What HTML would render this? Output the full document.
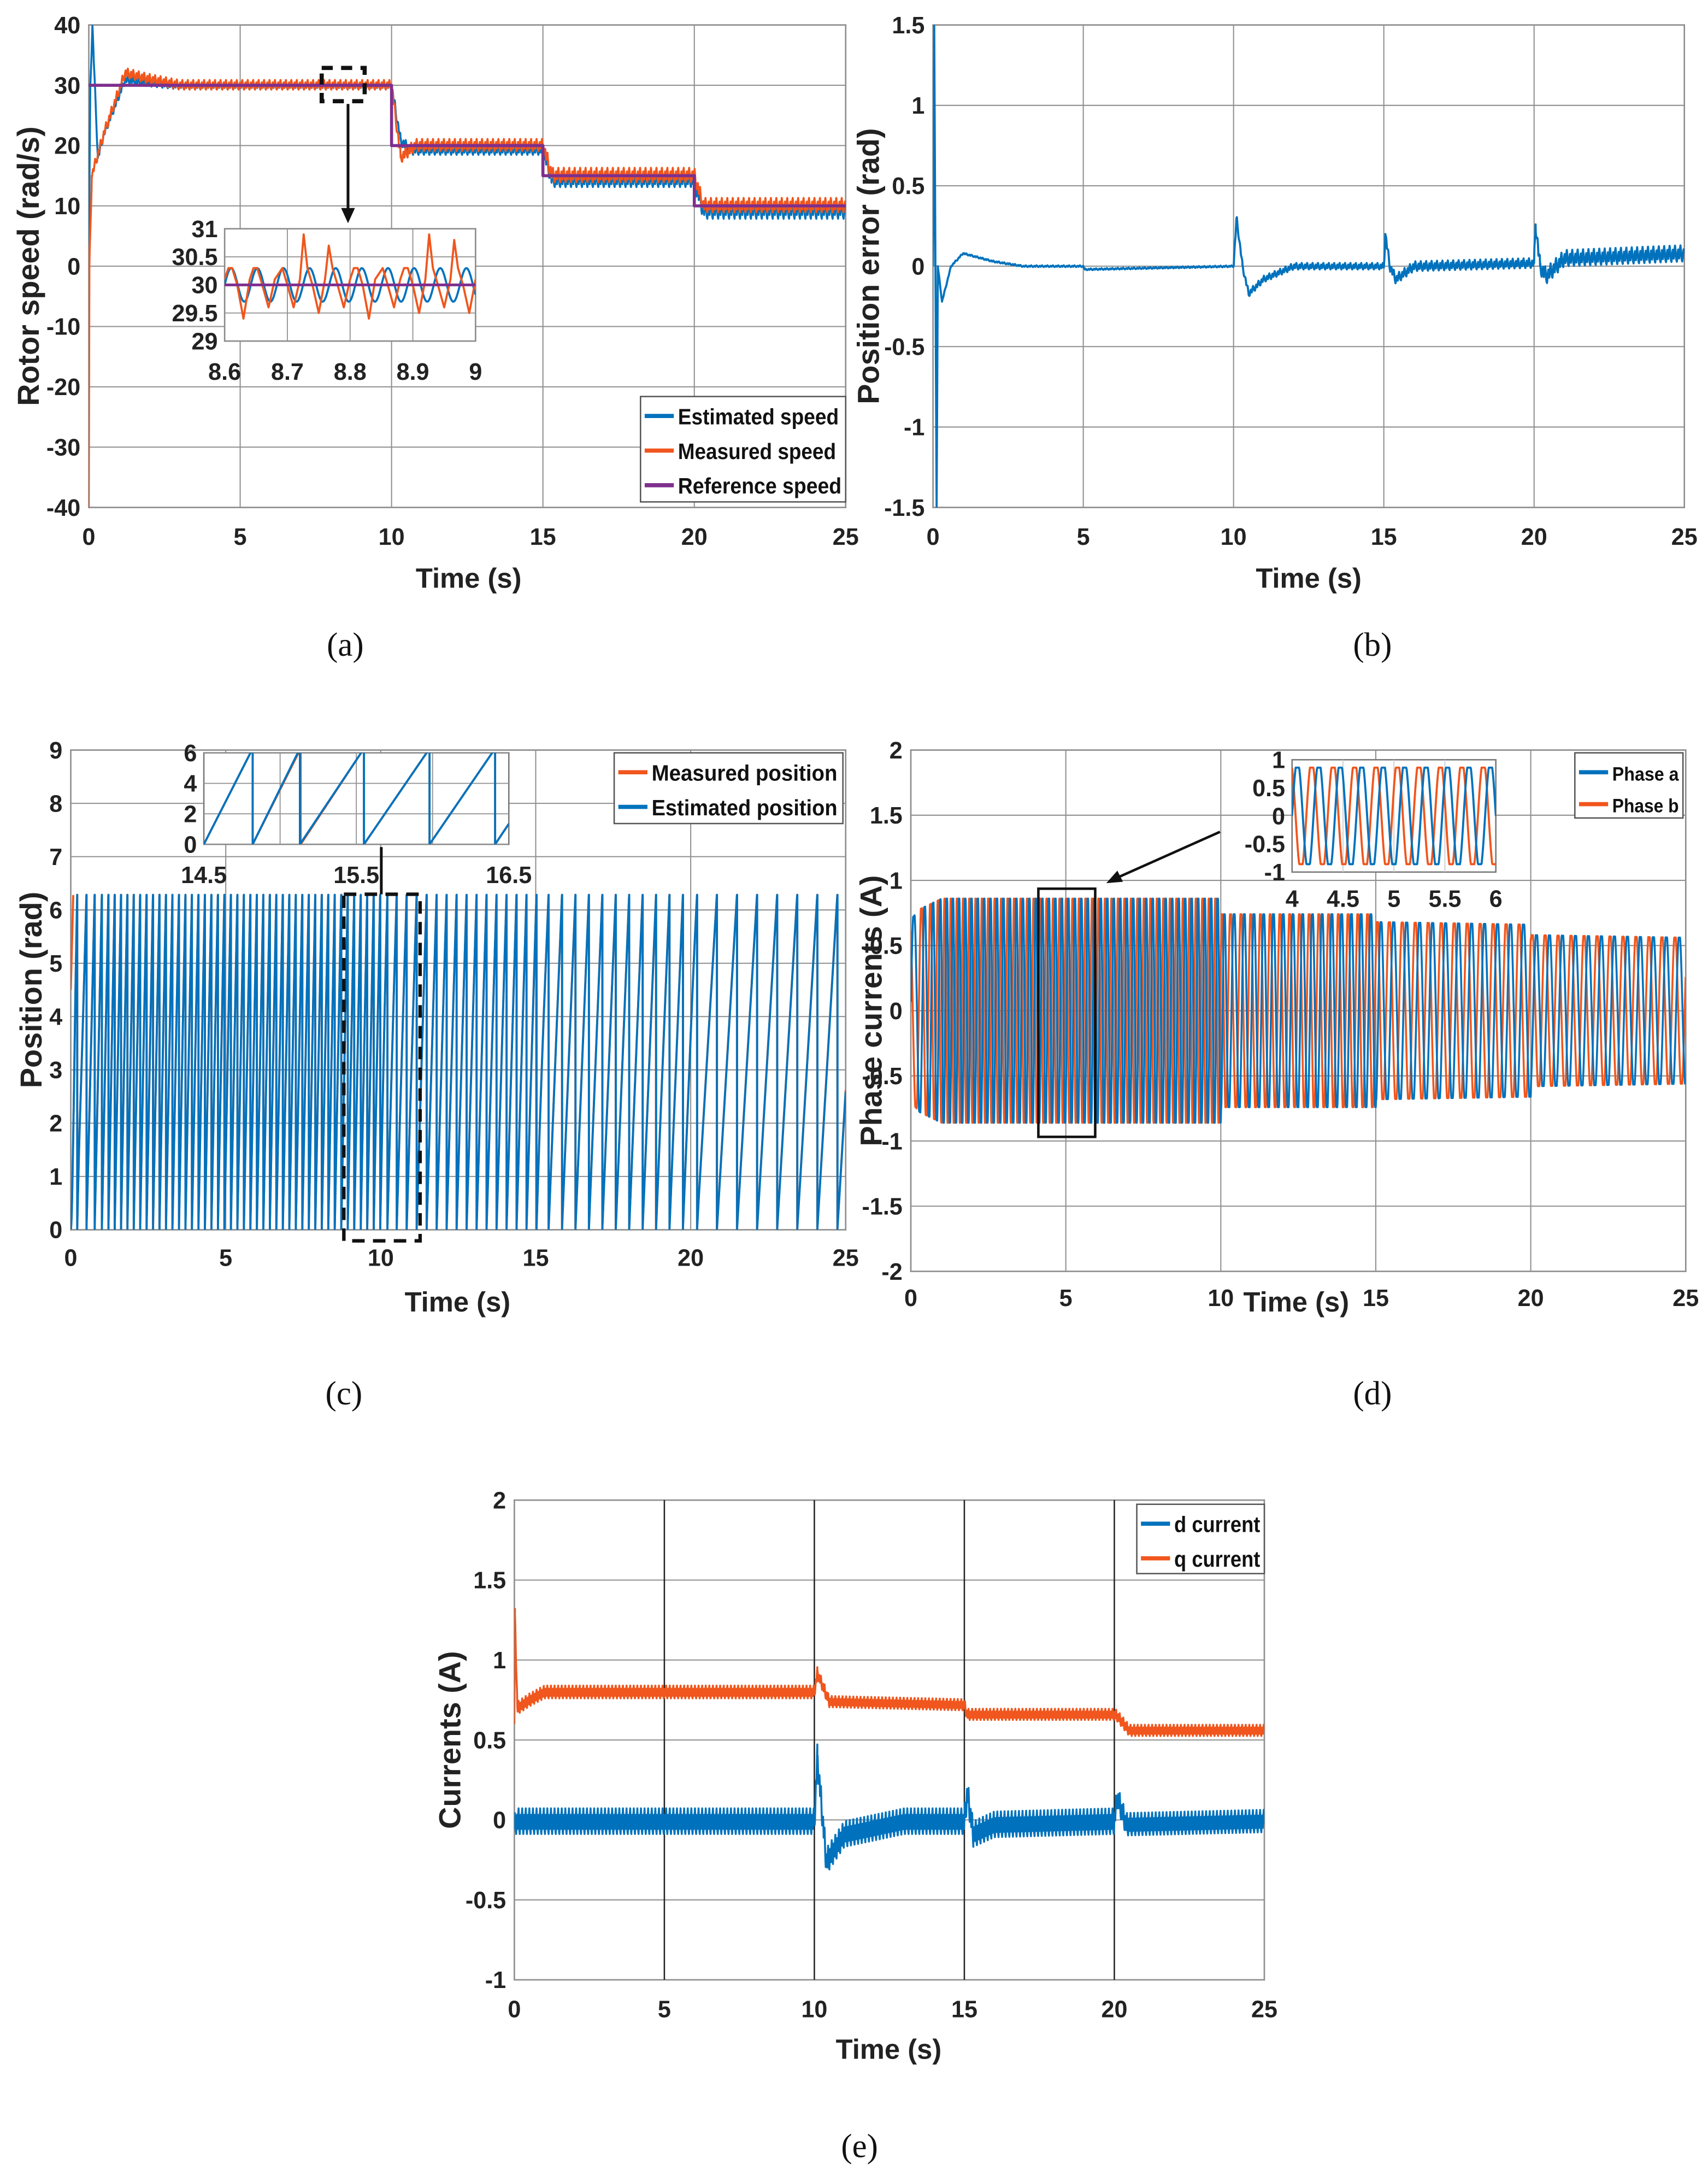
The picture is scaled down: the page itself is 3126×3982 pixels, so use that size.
<!DOCTYPE html>
<html><head><meta charset="utf-8"><style>
html,body{margin:0;padding:0;background:#fff}
svg{display:block}
text{font-family:"Liberation Sans",sans-serif}
.tk{font-weight:bold;font-size:17px;fill:#222}
.lab{font-weight:bold;font-size:20px;fill:#222}
.ylab{font-weight:bold;font-size:22px;fill:#222}
.cap{font-family:"Liberation Serif",serif;font-size:24px;fill:#111}
.lg{font-weight:bold;font-size:16px;fill:#111}
</style></head><body>
<svg id="fig" width="3126" height="3982" viewBox="0 0 1232 1569.5" xmlns="http://www.w3.org/2000/svg"></svg>
<script>
// ---------- data ----------
const refT=[0,10,15,20,25];
const refV=[30,20,15,10];
const measT=[0,0.02,0.1,0.5,1.2,2,3,10,10.3,10.8,15,15.3,20,20.3,25];
const measV=[-40,0,15,22,32,31,30,30,18,20,20,15,15,10,10];
const measRip=[0.8,1.0,1.2,1.2];
const estT=[0,0.05,0.12,0.2,0.3,0.5,1.2,2,3,10,10.3,10.6,15,15.3,20,20.3,25];
const estV=[0,30,40,30,18,22,31,30.5,30,30,21,19.5,19.5,14.5,14.5,9.7,9.7];
const estRip=[0.6,0.9,1.2,1.6];
const rippleShape=[0,0.6,1,0.4,-0.3,-0.8,-1,-0.5,0.1,0.5,0.2,-0.6];
const errT=[0,0.04,0.08,0.12,0.16,0.3,0.6,1,2,3,5,5.05,10,10.1,10.3,10.5,11,12,15,15.05,15.2,15.4,16,20,20.05,20.2,20.4,21,25];
const errV=[0,1.5,0,-1.5,0,-0.22,0,0.08,0.03,0,0,-0.02,0,0.3,0,-0.17,-0.08,0,0,0.2,0,-0.08,0,0.02,0.26,0,-0.06,0.05,0.08];
const errRip=[0.005,0.02,0.03,0.05];
const ampT=[0,0.3,1,10,10.01,15,15.01,20,20.01,25];
const ampV=[0.7,0.78,0.86,0.86,0.74,0.74,0.68,0.66,0.58,0.56];
const qT=[0,0.02,0.1,0.5,1,10,10.1,10.5,15,15.1,20,20.1,20.5,25];
const qV=[0.6,1.28,0.7,0.75,0.8,0.8,0.92,0.74,0.72,0.66,0.66,0.65,0.56,0.56];
const dT=[0,0.05,1,10,10.1,10.4,11,13,15,15.1,15.3,16,20,20.1,20.4,25];
const dV=[-0.05,0,0,0,0.4,-0.25,-0.08,0,0,0.18,-0.08,-0.02,0,0.15,-0.02,0];
const insA_peaks=[30.3,30.3,30.2,30.9,30.7,30.3,30.2,30.3,30.9,30.8];
const insA_trough=[29.4,29.6,29.6,29.5,29.6,29.4,29.6,29.5,29.6,29.5];
const insC_wrap=[14.82,15.13,15.55,15.98,16.41];
const C={blue:'#0072BD',orange:'#F0561D',purple:'#7E2F8E',grid:'#8f8f8f'};
const NS='http://www.w3.org/2000/svg';
const svg=document.getElementById('fig');
function mk(tag,parent){const e=document.createElementNS(NS,tag);(parent||svg).appendChild(e);return e;}
function interp(T,V,t){if(t<=T[0])return V[0];for(let i=1;i<T.length;i++){if(t<=T[i]){const f=(t-T[i-1])/(T[i]-T[i-1]);return V[i-1]+f*(V[i]-V[i-1]);}}return V[V.length-1];}
function seg(t){return t<10?0:t<15?1:t<20?2:3;}
function axes(x0,x1,y0,y1,xmin,xmax,ymin,ymax){return{x0,x1,y0,y1,sx:t=>x0+(t-xmin)/(xmax-xmin)*(x1-x0),sy:v=>y1-(v-ymin)/(ymax-ymin)*(y1-y0)};}
let clipN=0;
function clip(ax){const id='c'+(clipN++);const cp=mk('clipPath');cp.setAttribute('id',id);const r=mk('rect',cp);r.setAttribute('x',ax.x0);r.setAttribute('y',ax.y0);r.setAttribute('width',ax.x1-ax.x0);r.setAttribute('height',ax.y1-ax.y0);return 'url(#'+id+')';}
function line(x1,y1,x2,y2,st,w,name,dash){const l=mk('line');l.setAttribute('x1',x1);l.setAttribute('y1',y1);l.setAttribute('x2',x2);l.setAttribute('y2',y2);l.setAttribute('stroke',st);l.setAttribute('stroke-width',w);if(dash)l.setAttribute('stroke-dasharray',dash);


return l;}
function txt(x,y,s,cls,anchor,name,rot){const t=mk('text');t.setAttribute('x',x);t.setAttribute('y',y);t.setAttribute('class',cls);t.setAttribute('text-anchor',anchor||'middle');if(rot)t.setAttribute('transform','rotate(-90 '+x+' '+y+')');t.textContent=s;


return t;}
function rect(x,y,w,h,st,sw,name,dash){const r=mk('rect');r.setAttribute('x',x);r.setAttribute('y',y);r.setAttribute('width',w);r.setAttribute('height',h);r.setAttribute('fill','#fff');r.setAttribute('stroke',st);r.setAttribute('stroke-width',sw);if(dash){r.setAttribute('stroke-dasharray',dash);r.setAttribute('fill','none');}


return r;}
function path(pts,ax,col,w,cp,name){const p=mk('path');let d='';for(let i=0;i<pts.length;i++){d+=(i?'L':'M')+ax.sx(pts[i][0]).toFixed(2)+' '+ax.sy(pts[i][1]).toFixed(2);}p.setAttribute('d',d);p.setAttribute('fill','none');p.setAttribute('stroke',col);p.setAttribute('stroke-width',w);p.setAttribute('stroke-linejoin','round');if(cp)p.setAttribute('clip-path',cp);


return p;}
function frame(ax,xt,yt,pre,xly,ylx){
 rect(ax.x0,ax.y0,ax.x1-ax.x0,ax.y1-ax.y0,'#777',1,pre+'-plot-area');
 xt.forEach(v=>{line(ax.sx(v),ax.y0,ax.sx(v),ax.y1,C.grid,0.8,pre+'-x-grid');txt(ax.sx(v),xly,String(v),'tk','middle',pre+'-x-tick-label');});
 yt.forEach(v=>{line(ax.x0,ax.sy(v),ax.x1,ax.sy(v),C.grid,0.8,pre+'-y-grid');txt(ylx,ax.sy(v)+6,String(v),'tk','end',pre+'-y-tick-label');});
}
function rippled(T,V,rip,t0,t1,dt,bias){const pts=[];let i=0;let k=0;for(let t=t0;t<=t1+1e-9;t+=dt){while(k<T.length&&T[k]<t){if(T[k]>=t0)pts.push([T[k],V[k]]);k++;}pts.push([t,interp(T,V,t)+rip[seg(t)]*(rippleShape[i%rippleShape.length]+(bias||0))]);i++;}return pts;}
function legend(x,y,w,h,items,dy,pre,fs,tl){rect(x,y,w,h,'#555',1,pre+'-legend');items.forEach((it,k)=>{const yy=y+14+k*dy;line(x+3,yy,x+24,yy,it[1],3,pre+'-legend-swatch');const t=txt(x+27,yy+6,it[0],'lg','start',pre+'-legend-entry');t.style.fontSize=fs+'px';t.setAttribute('textLength',tl[k]);t.setAttribute('lengthAdjust','spacingAndGlyphs');});}

// ---------- (a) ----------
const A=axes(64,610,18,366,0,25,-40,40);
frame(A,[0,5,10,15,20,25],[40,30,20,10,0,-10,-20,-30,-40],'a',393,58);
const cpA=clip(A);
path(rippled(estT,estV,estRip,0,25,0.015,-0.15),A,C.blue,1.4,cpA,'estimated-speed-line');
path(rippled(measT,measV,measRip,0,25,0.015,0.1),A,C.orange,1.4,cpA,'measured-speed-line');
{const pts=[];for(let i=0;i<refV.length;i++){pts.push([refT[i],refV[i]]);pts.push([refT[i+1],refV[i]]);}path(pts,A,C.purple,2.2,cpA,'reference-speed-line');}
rect(232,49,31,24,'#111',3,'zoom-box-a','8 6');
line(251,75,251,152,'#111',2,'zoom-arrow-a');
{const a=mk('path');a.setAttribute('d','M246 150 L256 150 L251 161 Z');a.setAttribute('fill','#111');

}
const IA=axes(162,343,165,246,8.6,9,29,31);
rect(IA.x0,IA.y0,IA.x1-IA.x0,IA.y1-IA.y0,'#777',1,'inset-a');
[8.6,8.7,8.8,8.9,9].forEach(v=>{line(IA.sx(v),IA.y0,IA.sx(v),IA.y1,C.grid,0.7,'inset-a-x-grid');txt(IA.sx(v),274,String(v),'tk','middle','inset-a-x-tick');});
[31,30.5,30,29.5,29].forEach(v=>{line(IA.x0,IA.sy(v),IA.x1,IA.sy(v),C.grid,0.7,'inset-a-y-grid');txt(157,IA.sy(v)+6,String(v),'tk','end','inset-a-y-tick');});
const cpIA=clip(IA);
{const pts=[];const per=0.4/insA_peaks.length;for(let k=0;k<insA_peaks.length;k++){const t0=8.6+k*per;pts.push([t0,30.1]);pts.push([t0+per*0.15,insA_peaks[k]]);pts.push([t0+per*0.3,30.3]);pts.push([t0+per*0.5,30.0]);pts.push([t0+per*0.75,insA_trough[k]]);pts.push([t0+per,30.1]);}
const b=[];for(let t=8.6;t<=9.001;t+=0.002){b.push([t,30+0.3*Math.sin((t-8.6)*2*Math.PI*24)]);}
path(b,IA,C.blue,1.5,cpIA,'inset-a-estimated');
path(pts,IA,C.orange,1.5,cpIA,'inset-a-measured');
path([[8.6,30],[9,30]],IA,C.purple,2,cpIA,'inset-a-reference');}
legend(462,286,148,76,[['Estimated speed',C.blue],['Measured speed',C.orange],['Reference speed',C.purple]],25,'a',16,[116,114,118]);
txt(28,192,'Rotor speed (rad/s)','ylab','middle','y-axis-title-a',true);
txt(338,424,'Time (s)','lab','middle','x-axis-title-a');
txt(249,473,'(a)','cap','middle','caption-a');

// ---------- (b) ----------
const B=axes(673,1215,18,366,0,25,-1.5,1.5);
frame(B,[0,5,10,15,20,25],[1.5,1,0.5,0,-0.5,-1,-1.5],'b',393,667);
path(rippled(errT,errV,errRip,0,25,0.015),B,C.blue,1.5,clip(B),'position-error-line');
txt(634,192,'Position error (rad)','ylab','middle','y-axis-title-b',true);
txt(944,424,'Time (s)','lab','middle','x-axis-title-b');
txt(990,473,'(b)','cap','middle','caption-b');

// ---------- (c) ----------
const Cc=axes(51,610,541,887,0,25,0,9);
frame(Cc,[0,5,10,15,20,25],[9,8,7,6,5,4,3,2,1,0],'c',913,45);
const cpC=clip(Cc);
function saw(T,V,off){const pts=[];let th=off;pts.push([0,th]);const dt=0.004;for(let t=dt;t<=25.0001;t+=dt){const w=interp(T,V,t);let nt=th+w*dt;if(nt>=2*Math.PI){pts.push([t,2*Math.PI]);pts.push([t,0]);nt-=2*Math.PI;}else if(nt<0){pts.push([t,0]);pts.push([t,2*Math.PI]);nt+=2*Math.PI;}th=nt;pts.push([t,th]);}return pts;}
path(saw(estT,estV,0.03),Cc,C.orange,1.5,cpC,'measured-position-line');
path([[0,4.5],[0.08,6.28]],Cc,C.orange,1.5,cpC,'measured-position-start');
path(saw(estT,estV,0),Cc,C.blue,1.5,cpC,'estimated-position-line');
rect(248,645,55,250,'#111',2.5,'zoom-box-c','9 6');
line(275,611,275,645,'#111',2,'zoom-line-c');
const IC=axes(147,367,543,609,14.5,16.5,0,6);
rect(IC.x0,IC.y0,IC.x1-IC.x0,IC.y1-IC.y0,'#777',1,'inset-c');
[15,15.5,16].forEach(v=>line(IC.sx(v),IC.y0,IC.sx(v),IC.y1,C.grid,0.7,'inset-c-x-grid'));
[14.5,15.5,16.5].forEach(v=>txt(IC.sx(v),637,String(v),'tk','middle','inset-c-x-tick'));
[6,4,2,0].forEach(v=>{line(IC.x0,IC.sy(v),IC.x1,IC.sy(v),C.grid,0.7,'inset-c-y-grid');txt(142,IC.sy(v)+6,String(v),'tk','end','inset-c-y-tick');});
{const pts=[[14.5,0]];const per=insC_wrap[2]-insC_wrap[1];for(let k=0;k<insC_wrap.length;k++){pts.push([insC_wrap[k],6.28]);pts.push([insC_wrap[k],0]);}pts.push([16.5,6.28*(16.5-insC_wrap[4])/per]);
const cpIC=clip(IC);
path(pts.map(p=>[p[0]+(p[0]>15&&p[0]<15.2?0.005:0),p[1]]),IC,C.orange,1.5,cpIC,'inset-c-measured');
path(pts,IC,C.blue,1.5,cpIC,'inset-c-estimated');}
legend(443,543,165,51,[['Measured position',C.orange],['Estimated position',C.blue]],25,'c',16,[134,134]);
txt(30,714,'Position (rad)','ylab','middle','y-axis-title-c',true);
txt(330,946,'Time (s)','lab','middle','x-axis-title-c');
txt(248,1013,'(c)','cap','middle','caption-c');

// ---------- (d) ----------
const D=axes(657,1216,541,917,0,25,-2,2);
frame(D,[0,5,10,15,20,25],[2,1.5,1,0.5,0,-0.5,-1,-1.5,-2],'d',942,651);
const cpD=clip(D);
function phase(shift){const pts=[];let th=0;const dt=0.006;for(let t=0;t<=25.0001;t+=dt){th+=interp(measT,measV.map(v=>Math.max(v,15)),t)*dt;const s=Math.max(-1,Math.min(1,1.08*Math.sin(th+shift)));pts.push([t,interp(ampT,ampV,t)*s]);}return pts;}
path(phase(2.1),D,C.orange,1.4,cpD,'phase-b-line');
path(phase(0),D,C.blue,1.4,cpD,'phase-a-line');
rect(749,641,41,179,'#111',1.8,'zoom-box-d','none');
line(880,600,806,633,'#111',1.8,'zoom-arrow-d');
{const a=mk('path');a.setAttribute('d','M798 637 L806 628 L810 636 Z');a.setAttribute('fill','#111');

}
const ID=axes(932,1079,548,629,4,6,-1,1);
rect(ID.x0,ID.y0,ID.x1-ID.x0,ID.y1-ID.y0,'#777',1,'inset-d');
[4.5,5,5.5].forEach(v=>line(ID.sx(v),ID.y0,ID.sx(v),ID.y1,'#ccc',0.7,'inset-d-x-grid'));
[4,4.5,5,5.5,6].forEach(v=>txt(ID.sx(v),654,String(v),'tk','middle','inset-d-x-tick'));
[1,0.5,0,-0.5,-1].forEach(v=>txt(927,ID.sy(v)+6,String(v),'tk','end','inset-d-y-tick'));
{const cpID=clip(ID);function ip(sh){const pts=[];for(let t=4;t<=6.001;t+=0.004){const s=Math.max(-1,Math.min(1,1.15*Math.sin((t-4)*2*Math.PI*4.75+sh)));pts.push([t,0.86*s]);}return pts;}
path(ip(2.1),ID,C.orange,1.5,cpID,'inset-d-phase-b');path(ip(0),ID,C.blue,1.5,cpID,'inset-d-phase-a');}
legend(1136,543,78,47,[['Phase a',C.blue],['Phase b',C.orange]],23,'d',14,[48,48]);
txt(636,729,'Phase currents (A)','ylab','middle','y-axis-title-d',true);
txt(935,946,'Time (s)','lab','middle','x-axis-title-d');
txt(990,1013,'(d)','cap','middle','caption-d');

// ---------- (e) ----------
const E=axes(371,912,1082,1428,0,25,-1,2);
frame(E,[0,5,10,15,20,25],[2,1.5,1,0.5,0,-0.5,-1],'e',1455,365);
[5,10,15,20].forEach(v=>line(E.sx(v),E.y0,E.sx(v),E.y1,'#222',1,'e-x-grid-dark'));
const cpE=clip(E);
path(rippled(dT,dV,[0.08,0.08,0.08,0.07],0,25,0.01,-0.1),E,C.blue,1.4,cpE,'d-current-line');
path(rippled(qT,qV,[0.04,0.035,0.035,0.035],0,25,0.01),E,C.orange,1.4,cpE,'q-current-line');
legend(820,1085,92,50,[['d current',C.blue],['q current',C.orange]],25,'e',16,[62,62]);
txt(332,1255,'Currents (A)','ylab','middle','y-axis-title-e',true);
txt(641,1485,'Time (s)','lab','middle','x-axis-title-e');
txt(620,1556,'(e)','cap','middle','caption-e');
</script>
</body></html>
